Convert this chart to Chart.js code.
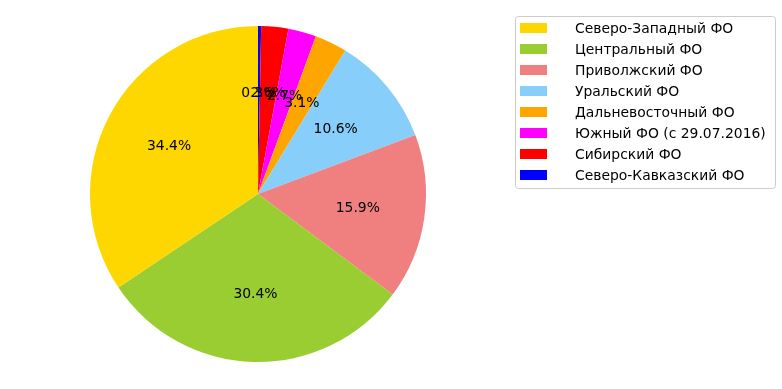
<!DOCTYPE html>
<html>
<head>
<meta charset="utf-8">
<script src="https://cdn.jsdelivr.net/npm/chart.js@4"></script>
<style>
  body { margin: 0; background: #fff; }
  #wrap { width: 782px; height: 389px; position: relative; }
</style>
</head>
<body>
<div id="wrap"><canvas id="grafico" width="782" height="389"></canvas></div>
<script>
const okruga = [
    'Северо-Западный ФО',
    'Центральный ФО',
    'Приволжский ФО',
    'Уральский ФО',
    'Дальневосточный ФО',
    'Южный ФО (с 29.07.2016)',
    'Сибирский ФО',
    'Северо-Кавказский ФО'
];
const doli = [34.4, 30.4, 15.9, 10.6, 3.1, 2.7, 2.6, 0.3];
const colores = ['#FFD700', '#9ACD32', '#F08080', '#87CEFA', '#FFA500', '#FF00FF', '#FF0000', '#0000FF'];

// matplotlib va en sentido antihorario, Chart.js en horario: invertimos el orden
const etiquetas = okruga.slice().reverse();
const valores = doli.slice().reverse();
const coloresInv = colores.slice().reverse();
const total = doli.reduce((a, b) => a + b, 0);

const FONT = '13.9px "DejaVu Sans", sans-serif';

// etiquetas de porcentaje a 0.6 del radio
const porcentajes = {
    id: 'porcentajes',
    afterDatasetsDraw(chart) {
        const ctx = chart.ctx;
        const arcs = chart.getDatasetMeta(0).data;
        ctx.save();
        ctx.font = FONT;
        ctx.fillStyle = '#000';
        ctx.textAlign = 'center';
        ctx.textBaseline = 'middle';
        // dibujar en el orden original
        for (let i = arcs.length - 1; i >= 0; i--) {
            const a = arcs[i];
            const mid = (a.startAngle + a.endAngle) / 2;
            const r = a.outerRadius * 0.6;
            const pct = (valores[i] / total * 100).toFixed(1) + '%';
            ctx.fillText(pct, a.x + Math.cos(mid) * r, a.y + Math.sin(mid) * r);
        }
        ctx.restore();
    }
};

// leyenda al estilo matplotlib
const leyenda = {
    id: 'leyenda',
    afterDraw(chart) {
        const ctx = chart.ctx;
        const x0 = 515.5, y0 = 16.5, w = 260, h = 172;
        ctx.save();
        ctx.fillStyle = 'rgba(255,255,255,0.8)';
        ctx.strokeStyle = '#cccccc';
        ctx.lineWidth = 1;
        ctx.beginPath();
        ctx.roundRect(x0, y0, w, h, 3);
        ctx.fill();
        ctx.stroke();
        ctx.font = FONT;
        ctx.textBaseline = 'middle';
        ctx.fillStyle = '#000';
        okruga.forEach((nombre, i) => {
            const y = 28 + i * 21;
            ctx.fillStyle = colores[i];
            ctx.fillRect(520, y - 5, 27, 10);
            ctx.fillStyle = '#000';
            ctx.fillText(nombre, 575, y + 1);
        });
        ctx.restore();
    }
};

const context = document.getElementById('grafico').getContext('2d');
const grafico = new Chart(context, {
    type: 'pie',
    data: {
        labels: etiquetas,
        datasets: [{
            data: valores,
            backgroundColor: coloresInv,
            borderWidth: 0
        }]
    },
    options: {
        responsive: false,
        animation: false,
        layout: {
            padding: { left: 90, right: 356, top: 26, bottom: 27 }
        },
        plugins: {
            legend: { display: false },
            tooltip: { enabled: false }
        }
    },
    plugins: [porcentajes, leyenda]
});
</script>
</body>
</html>
